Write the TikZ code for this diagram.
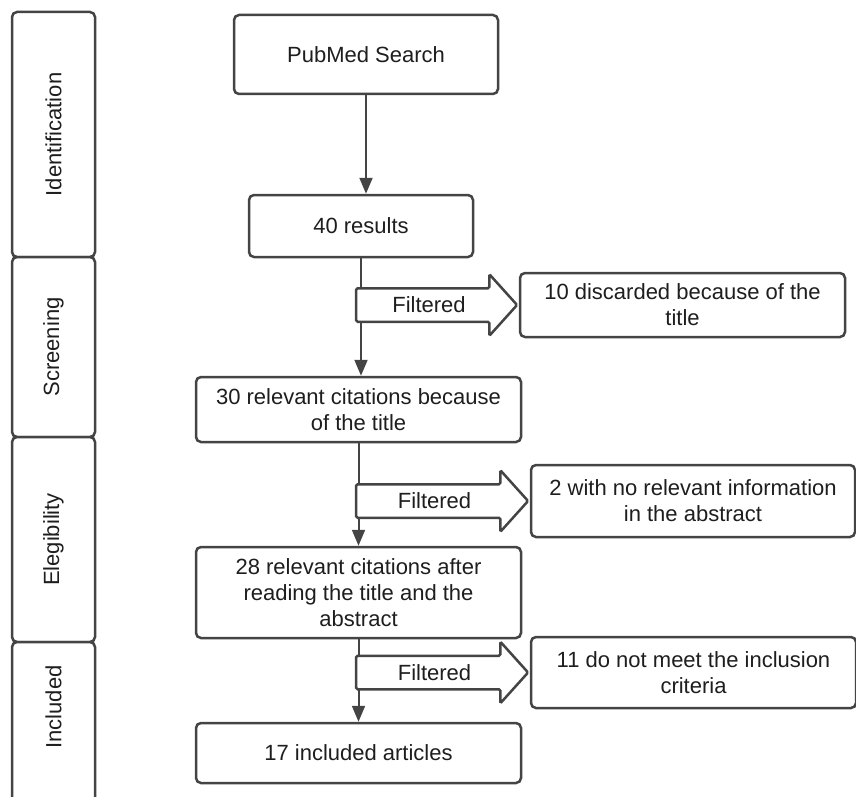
\documentclass[tikz,border=0pt]{standalone}
\usepackage{fontspec}
\setmainfont{Liberation Sans}
\usetikzlibrary{arrows.meta,positioning,shapes.arrows}
\definecolor{edgegray}{HTML}{444444}
\definecolor{textgray}{HTML}{1E1E1E}
\tikzset{
    basic/.style={
        draw=edgegray,
        line width=2.5pt,
        rounded corners=5pt,
        fill=white,
        align=center,
        text=textgray,
        inner sep=0pt,
        font=\fontsize{22}{26}\selectfont
    },
    phase/.style={
        basic,
        rotate=90,
        minimum height=83pt
    },
    filt/.style={
        draw=edgegray,
        line width=2.5pt,
        rounded corners=1.5pt,
        fill=white,
        text=textgray,
        single arrow,
        single arrow head extend=14pt,
        single arrow tip angle=96,
        text height=15pt,
        text depth=0pt,
        inner ysep=8pt,
        inner xsep=0pt,
        font=\fontsize{22}{26}\selectfont
    },
    flow/.style={
        draw=edgegray,
        line width=2pt,
        -{Triangle[width=13pt,length=16pt]}
    }
}

\begin{document}
\begin{tikzpicture}[x=1pt,y=-1pt]
    \useasboundingbox (0,0) rectangle (856,797);

    \node[phase,minimum width=245pt] (Ident) at (53.5,134.5) {Identification};
    \node[phase,minimum width=180pt] (Screen) at (53.5,347) {Screening};
    \node[phase,minimum width=205pt] (Elig) at (53.5,539.5) {Elegibility};
    \node[phase,minimum width=163pt] (Incl) at (53.5,723.5) {\hspace*{33pt}Included};

    \node[basic,minimum width=264pt,minimum height=79pt] (Search) at (366,54.5) {PubMed Search};
    \node[basic,minimum width=224pt,minimum height=62pt] (Results) at (361,226) {40 results};
    \node[basic,minimum width=325pt,minimum height=65pt] (Title) at (358.5,409.5) {
            30 relevant citations because\\
            of the title
        };
    \node[basic,minimum width=325pt,minimum height=91pt] (Abstract) at (358.5,592.5) {
            28 relevant citations after\\
            reading the title and the\\
            abstract
        };
    \node[basic,minimum width=325pt,minimum height=60pt] (Final) at (358.5,753) {17 included articles};

    \node[basic,minimum width=325pt,minimum height=64pt] (DiscTitle) at (682.5,305) {
            10 discarded because of the\\
            title
        };
    \node[basic,minimum width=324pt,minimum height=72pt] (DiscAbstract) at (693,501) {
            2 with no relevant information\\
            in the abstract
        };
    \node[basic,minimum width=325pt,minimum height=71pt] (DiscCriteria) at (693.5,672.5) {
            11 do not meet the inclusion\\
            criteria
        };

    \draw[flow] (Search.south) -- (Search.south |- Results.north);
    \draw[flow] (Results.south) -- (Results.south |- Title.north);
    \draw[flow] (Title.south) -- (Abstract.north);
    \draw[flow] (Abstract.south) -- (Final.north);

    \node[filt,minimum height=161pt,left=0pt of DiscTitle] (FiltTitle) {Filtered};
    \node[filt,minimum height=172pt,left=0pt of DiscAbstract] (FiltAbstract) {Filtered};
    \node[filt,minimum height=172pt,left=0pt of DiscCriteria] (FiltCriteria) {Filtered};
\end{tikzpicture}
\end{document}
